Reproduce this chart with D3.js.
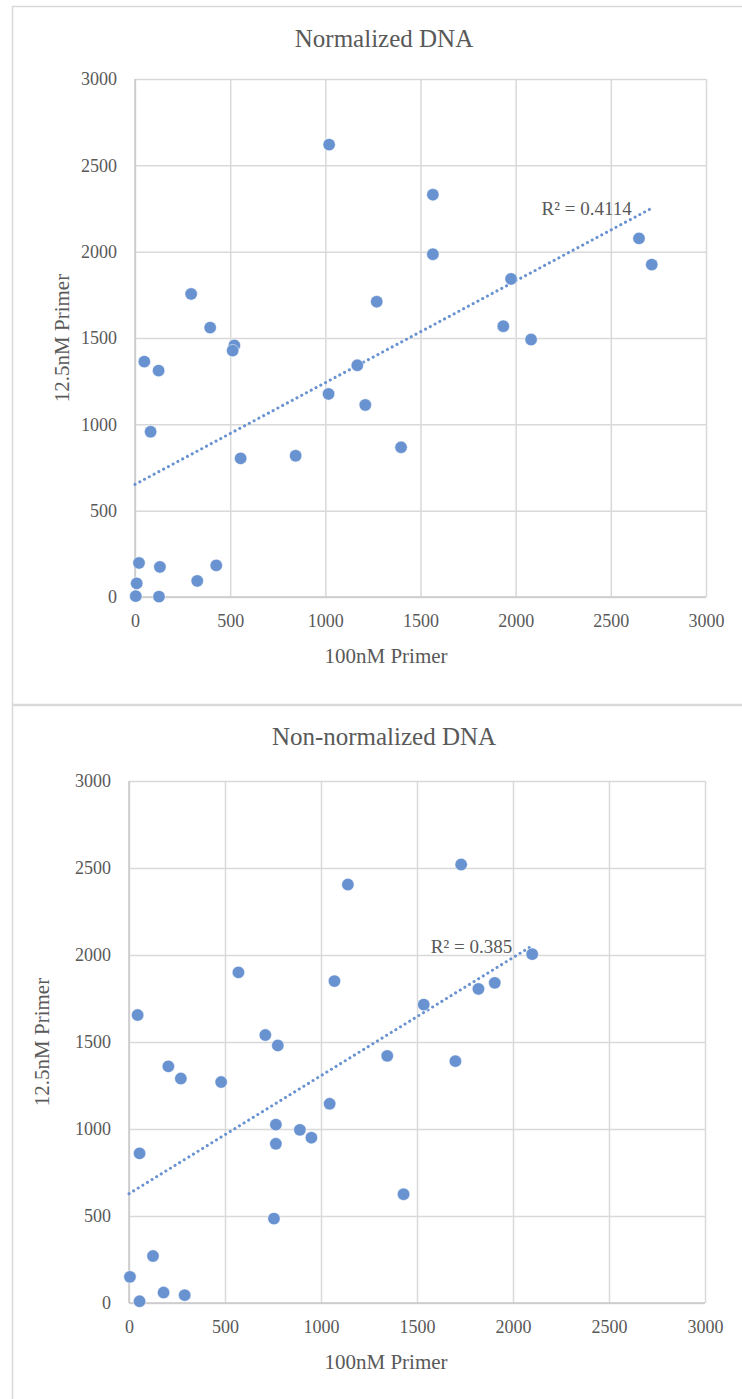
<!DOCTYPE html>
<html>
<head>
<meta charset="utf-8">
<title>Normalized vs non-normalized DNA</title>
<script src="https://cdn.jsdelivr.net/npm/d3@7"></script>
<style>
  body { margin: 0; background: #fff; }
  svg text { font-family: "Liberation Serif", "Times New Roman", serif; fill: #595959; }
</style>
</head>
<body>
<div id="viz"></div>
<script>
// values (100nM primer vs 12.5nM primer)
var normX = [1020, 1565, 1565, 295, 395, 1270, 522, 513, 49, 124, 1168, 1017, 1210, 82, 1398,
             555, 844, 2648, 2715, 1976, 1935, 2081, 4, 126, 9, 327, 21, 131, 427];
var normY = [2620, 2330, 1985, 1755, 1560, 1710, 1457, 1427, 1363, 1311, 1342, 1176, 1112, 957, 867,
             803, 818, 2077, 1925, 1842, 1568, 1491, 5, 2, 79, 93, 197, 174, 183];

var rawX = [1140, 570, 1070, 45, 1535, 710, 775, 1345, 205, 270, 480, 1045, 765, 890, 950,
            765, 55, 1730, 2100, 1905, 1820, 1700, 1430, 755, 125, 5, 180, 290, 55];
var rawY = [2405, 1900, 1850, 1655, 1715, 1540, 1480, 1420, 1360, 1290, 1270, 1145, 1025, 995, 950,
            915, 860, 2520, 2005, 1840, 1805, 1390, 625, 485, 270, 150, 60, 45, 10];

var xTicks = [0, 500, 1000, 1500, 2000, 2500, 3000];
var yTicks = [0, 500, 1000, 1500, 2000, 2500, 3000];

var titles = ["Normalized DNA", "Non-normalized DNA"];
var r2Labels = ["R\u00b2 = 0.4114", "R\u00b2 = 0.385"];
var xTitle = "100nM Primer";
var yTitle = "12.5nM Primer";

var width = 742, height = 1399;
var blue = "#6892d0";
var grid = "#d9d9d9";
var serif = "'Liberation Serif', 'Times New Roman', serif";

var svg = d3.select("#viz").append("svg")
    .attr("width", width)
    .attr("height", height);

// chart frames
svg.append("rect").attr("x", 12.5).attr("y", 6.5).attr("width", 760).attr("height", 698)
   .attr("fill", "none").attr("stroke", grid).attr("stroke-width", 1.5);
svg.append("rect").attr("x", 12.5).attr("y", 705.5).attr("width", 760).attr("height", 720)
   .attr("fill", "none").attr("stroke", grid).attr("stroke-width", 1.5);

var draw = function(xs, ys, title, r2, box) {
  var x = d3.scaleLinear().domain([0, 3000]).range([box.left, box.right]);
  var y = d3.scaleLinear().domain([0, 3000]).range([box.bottom, box.top]);
  var g = svg.append("g");

  // x axis + vertical gridlines
  var gx = g.append("g")
     .attr("transform", "translate(0," + box.bottom + ")")
     .call(d3.axisBottom(x).tickValues(xTicks).tickFormat(d3.format("d"))
             .tickSize(-(box.bottom - box.top)).tickPadding(17));
  // y axis + horizontal gridlines
  var gy = g.append("g")
     .attr("transform", "translate(" + box.left + ",0)")
     .call(d3.axisLeft(y).tickValues(yTicks).tickFormat(d3.format("d"))
             .tickSize(-(box.right - box.left)).tickPadding(18));

  [gx, gy].forEach(function(a){
    a.attr("font-family", serif).attr("font-size", 18);
    a.select(".domain").remove();
    a.selectAll("line").attr("stroke", grid).attr("stroke-width", 1.5);
    a.selectAll("text").attr("fill", "#595959");
  });

  // axis lines on the zero values
  g.append("line").attr("x1", x(0)).attr("x2", x(3000)).attr("y1", y(0)).attr("y2", y(0))
   .attr("stroke", "#c8c8c8").attr("stroke-width", 1.5);
  g.append("line").attr("x1", x(0)).attr("x2", x(0)).attr("y1", y(0)).attr("y2", y(3000))
   .attr("stroke", "#c8c8c8").attr("stroke-width", 1.5);

  // titles
  g.append("text").attr("x", 384).attr("y", box.titleY)
   .attr("text-anchor", "middle").style("font-size", "25px").text(title);
  g.append("text").attr("x", 386).attr("y", box.bottom + 66)
   .attr("text-anchor", "middle").style("font-size", "21px").text(xTitle);
  g.append("text")
   .attr("transform", "translate(" + box.yTitleX + "," + ((box.top + box.bottom) / 2) + ") rotate(-90)")
   .attr("text-anchor", "middle").style("font-size", "21px").text(yTitle);

  // linear trendline (least squares)
  var mx = d3.mean(xs), my = d3.mean(ys);
  var sxy = d3.sum(xs, function(d, i){ return (d - mx) * (ys[i] - my); });
  var sxx = d3.sum(xs, function(d){ return (d - mx) * (d - mx); });
  var slope = sxy / sxx, icpt = my - slope * mx;
  var xEnd = d3.max(xs);
  g.append("line")
   .attr("x1", x(0)).attr("y1", y(icpt))
   .attr("x2", x(xEnd)).attr("y2", y(icpt + slope * xEnd))
   .attr("stroke", blue).attr("stroke-width", 3)
   .attr("stroke-linecap", "round").attr("stroke-dasharray", "0.1 5.3");

  g.append("text")
   .attr("x", x(xEnd) - 20).attr("y", y(icpt + slope * xEnd) + 7)
   .attr("text-anchor", "end").style("font-size", "19px").text(r2);

  // points
  g.selectAll("circle").data(xs).enter()
   .append("circle")
   .attr("cx", function(d){ return x(d); })
   .attr("cy", function(d, i){ return y(ys[i]); })
   .attr("r", 6.2)
   .attr("fill", blue)
   .attr("stroke", "#fff").attr("stroke-width", 0.5);
};

draw(normX, normY, titles[0], r2Labels[0],
     {left: 135, right: 706, top: 79, bottom: 597, titleY: 47, yTitleX: 69});
draw(rawX, rawY, titles[1], r2Labels[1],
     {left: 129, right: 705, top: 781, bottom: 1303, titleY: 745, yTitleX: 49});
</script>
</body>
</html>
